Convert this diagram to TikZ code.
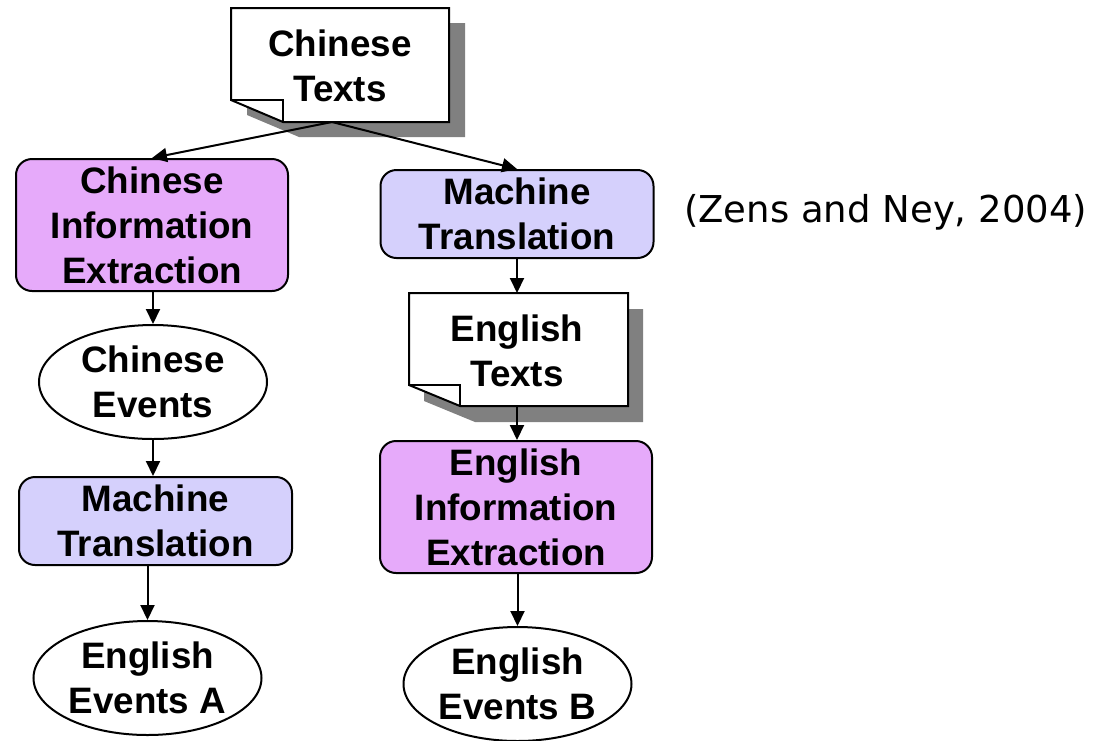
\documentclass[tikz,border=0pt]{standalone}
\usepackage{fontspec}
\setmainfont{Liberation Sans}
\newfontfamily\zensfont{DejaVu Sans}
\usetikzlibrary{arrows.meta,shapes.geometric}
\definecolor{iepink}{RGB}{230,170,250}
\definecolor{mtblue}{RGB}{213,208,252}
\definecolor{shadowgray}{RGB}{128,128,128}
\tikzset{
  lbl/.style={font=\fontsize{36.8}{45}\selectfont\bfseries, align=center, inner sep=0pt},
  iebox/.style={lbl, draw, line width=2pt, fill=iepink, rounded corners=16pt, minimum width=272pt, minimum height=132pt},
  mtbox/.style={lbl, draw, line width=2pt, fill=mtblue, rounded corners=16pt, minimum width=273pt, minimum height=88pt},
  event/.style={lbl, draw, line width=2pt, fill=white, ellipse, minimum width=228pt, minimum height=114pt},
  doctext/.style={lbl},
  docshadow/.style={fill=shadowgray},
  docpaper/.style={fill=white, draw, line width=2pt, line join=miter},
  docfold/.style={draw, line width=2pt},
  flow/.style={line width=2pt, -{Triangle[length=15pt,width=14pt]}},
  cite/.style={font=\zensfont\fontsize{37}{44}\selectfont, inner sep=0pt, anchor=base west},
}
\begin{document}
\begin{tikzpicture}[x=1pt,y=-1pt]
\useasboundingbox (0,0) rectangle (1097,740);
% Chinese texts document
\fill[docshadow] (247,23) -- (465,23) -- (465,137) -- (299,137) -- (247,115) -- cycle;
\draw[docpaper] (231,8) -- (449,8) -- (449,122) -- (283,122) -- (231,100) -- cycle;
\draw[docfold] (231,100) -- (283,100) -- (283,122);
\node[doctext] (cdoc) at (340,66) {Chinese\\Texts};
\coordinate (cdocB) at (332,122);
% English texts document
\fill[docshadow] (424,309) -- (643,309) -- (643,422) -- (475,422) -- (424,401) -- cycle;
\draw[docpaper] (409,293) -- (628,293) -- (628,406) -- (460,406) -- (409,385) -- cycle;
\draw[docfold] (409,385) -- (460,385) -- (460,406);
\node[doctext] (edoc) at (517,351) {English\\Texts};
\coordinate (edocT) at (517,293);
\coordinate (edocB) at (517,406);
% left column
\node[iebox] (cie) at (152,225) {Chinese\\Information\\Extraction};
\node[event] (cev) at (153,382) {Chinese\\Events};
\node[mtbox] (mt2) at (155.5,521) {Machine\\Translation};
\node[event] (eevA) at (147.5,678) {English\\Events A};
% right column
\node[mtbox] (mt1) at (517,214) {Machine\\Translation};
\node[iebox] (eie) at (516,507) {English\\Information\\Extraction};
\node[event] (eevB) at (517.5,684) {English\\Events B};
% citation
\node[cite] (zens) at (684,222) {(Zens and Ney, 2004)};
% connectors
\draw[flow] (cdocB) -- (cie.north);
\draw[flow] (cdocB) -- (mt1.north);
\draw[flow] (cie.south -| cev) -- (cev.north);
\draw[flow] (cev.south) -- (cev.south |- mt2.north);
\draw[flow] (mt2.south -| eevA) -- (eevA.north);
\draw[flow] (mt1.south) -- (edocT);
\draw[flow] (edocB) -- (edocB |- eie.north);
\draw[flow] (eie.south -| eevB) -- (eevB.north);
\end{tikzpicture}
\end{document}
